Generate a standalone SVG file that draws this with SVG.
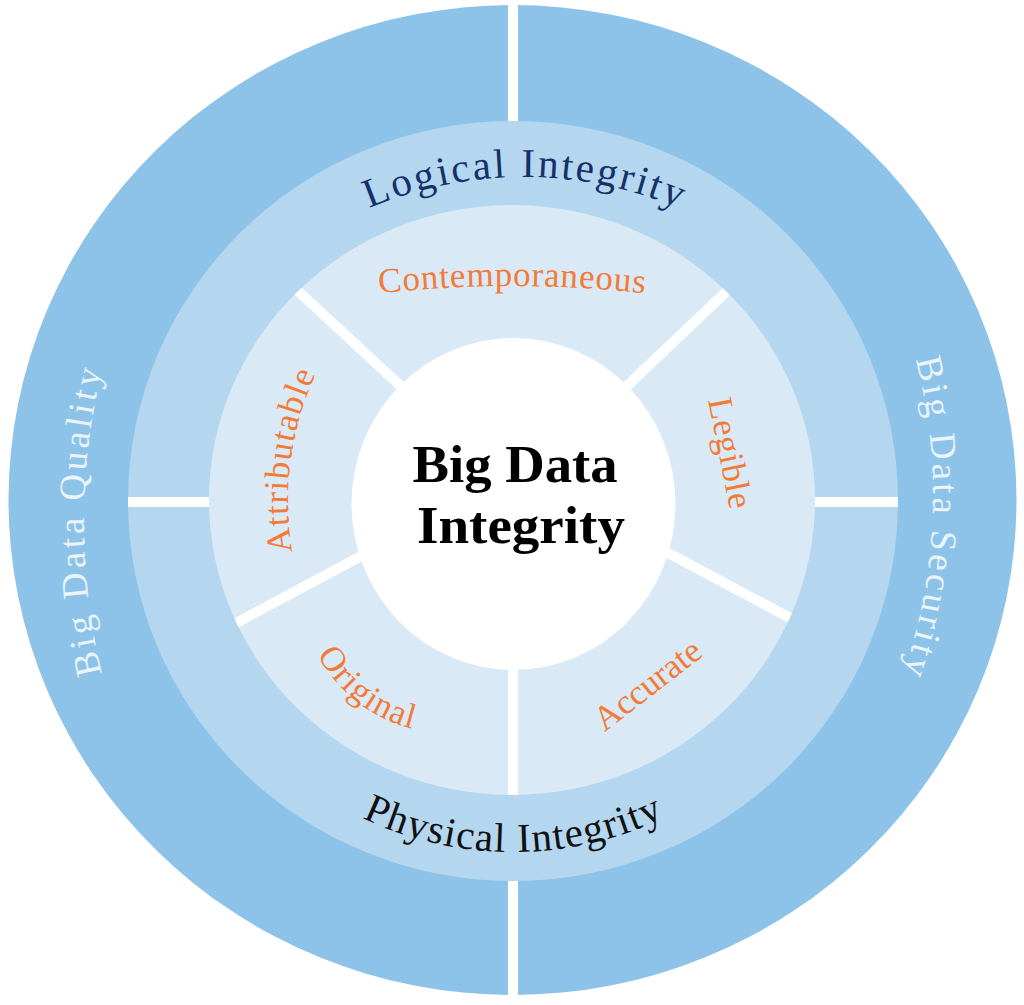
<svg xmlns="http://www.w3.org/2000/svg" width="1024" height="1005" viewBox="0 0 1024 1005">
  <style>
    .lbl { font-family: "Liberation Serif", "Times New Roman", serif; }
    .div { stroke: #ffffff; stroke-width: 10; fill: none; }
    .alcoa { fill: #F47A38; font-size: 35px; }
    .outerTxt { fill: #E9F4FB; font-size: 37px; }
    .ringTxt { font-size: 41px; }
  </style>
  <defs>
    <clipPath id="cOuter"><ellipse cx="512.5" cy="500" rx="504" ry="495"/></clipPath>
    <clipPath id="cMiddle"><ellipse cx="513" cy="501" rx="385" ry="380"/></clipPath>
    <clipPath id="cInner"><ellipse cx="512" cy="500" rx="303" ry="295"/></clipPath>
    <path id="pLogical" d="M177.6,377 A400,400 0 0 1 870.4,377"/>
    <path id="pPhysical" d="M209,676.5 A351,351 0 0 0 817,676.5"/>
    <path id="pCont" d="M201.4,326.9 A1200,1200 0 0 1 822.6,326.9"/>
    <path id="pLegible" d="M689.6,307.9 L748.4,602.2"/>
    <path id="pAttr" d="M407.7,743.8 A306,306 0 0 1 476.9,218.3"/>
    <path id="pOrig" d="M307.2,539.3 A148,148 0 0 0 526.4,710.5"/>
    <path id="pAcc" d="M535.6,785.3 L773.2,602.3"/>
    <path id="pQuality" d="M411,1088.4 A654,654 0 0 1 411,-44.4"/>
    <path id="pSecurity" d="M678.4,34.8 A545,545 0 0 1 642.2,978.1"/>
  </defs>

  <rect x="0" y="0" width="1024" height="1005" fill="#ffffff"/>

  <!-- Outer ring: Big Data Quality / Big Data Security -->
  <g id="outer-ring">
    <ellipse cx="512.5" cy="500" rx="504" ry="495" fill="#8DC3E8"/>
  </g>
  <g id="connectors-outer" clip-path="url(#cOuter)">
    <line class="div" x1="513" y1="0" x2="513" y2="1005"/>
  </g>

  <!-- Middle ring: Logical / Physical Integrity -->
  <g id="middle-ring">
    <ellipse cx="513" cy="501" rx="385" ry="380" fill="#B4D7EF"/>
  </g>
  <g id="connectors-middle" clip-path="url(#cMiddle)">
    <line class="div" x1="0" y1="502" x2="1024" y2="502"/>
  </g>

  <!-- Inner ring: ALCOA -->
  <g id="inner-ring">
    <ellipse cx="512" cy="500" rx="303" ry="295" fill="#D9EAF6"/>
  </g>
  <g id="connectors" clip-path="url(#cInner)">
    <line class="div" x1="280" y1="274.4" x2="420" y2="404"/>
    <line class="div" x1="745" y1="274" x2="610" y2="402"/>
    <line class="div" x1="640" y1="538" x2="822" y2="635"/>
    <line class="div" x1="513" y1="600" x2="513" y2="810"/>
    <line class="div" x1="208" y1="638" x2="380" y2="546"/>
  </g>

  <!-- Center -->
  <g id="center">
    <ellipse cx="513.5" cy="504" rx="162" ry="166" fill="#ffffff"/>
    <text class="lbl" x="515" y="482" text-anchor="middle" font-size="52" font-weight="bold" fill="#000000" textLength="205" lengthAdjust="spacingAndGlyphs">Big Data</text>
    <text class="lbl" x="521" y="543" text-anchor="middle" font-size="52" font-weight="bold" fill="#000000" textLength="208" lengthAdjust="spacingAndGlyphs">Integrity</text>
  </g>

  <g id="big-data-quality">
    <text class="lbl outerTxt"><textPath href="#pQuality" startOffset="50%" text-anchor="middle" textLength="306" lengthAdjust="spacing">Big Data Quality</textPath></text>
  </g>
  <g id="big-data-security">
    <text class="lbl outerTxt"><textPath href="#pSecurity" startOffset="50%" text-anchor="middle" textLength="318" lengthAdjust="spacing">Big Data Security</textPath></text>
  </g>
  <g id="logical-integrity">
    <text class="lbl ringTxt" fill="#15306B"><textPath href="#pLogical" startOffset="50%" text-anchor="middle" textLength="318" lengthAdjust="spacing">Logical Integrity</textPath></text>
  </g>
  <g id="physical-integrity">
    <text class="lbl ringTxt" fill="#111111"><textPath href="#pPhysical" startOffset="50%" text-anchor="middle" textLength="312" lengthAdjust="spacing">Physical Integrity</textPath></text>
  </g>
  <g id="contemporaneous">
    <text class="lbl alcoa"><textPath href="#pCont" startOffset="50%" text-anchor="middle" textLength="266" lengthAdjust="spacing">Contemporaneous</textPath></text>
  </g>
  <g id="legible">
    <text class="lbl alcoa"><textPath href="#pLegible" startOffset="50%" text-anchor="middle" textLength="112" lengthAdjust="spacing">Legible</textPath></text>
  </g>
  <g id="accurate">
    <text class="lbl alcoa"><textPath href="#pAcc" startOffset="50%" text-anchor="middle" textLength="126" lengthAdjust="spacing">Accurate</textPath></text>
  </g>
  <g id="original">
    <text class="lbl alcoa"><textPath href="#pOrig" startOffset="50%" text-anchor="middle" textLength="124" lengthAdjust="spacing">Original</textPath></text>
  </g>
  <g id="attributable">
    <text class="lbl alcoa"><textPath href="#pAttr" startOffset="50%" text-anchor="middle" textLength="182" lengthAdjust="spacing">Attributable</textPath></text>
  </g>
</svg>
